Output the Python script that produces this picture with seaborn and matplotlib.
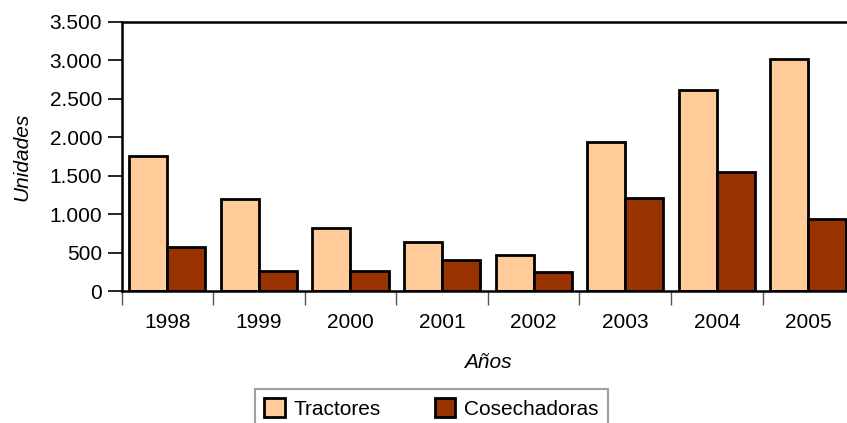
import seaborn as sns
import pandas as pd
import matplotlib.pyplot as plt
from matplotlib.ticker import FuncFormatter, FixedLocator

years = ["1998", "1999", "2000", "2001", "2002", "2003", "2004", "2005"]
tractores = [1760, 1200, 825, 640, 465, 1945, 2615, 3020]
cosechadoras = [568, 265, 260, 403, 243, 1205, 1548, 940]

df = pd.DataFrame({
    "Año": years * 2,
    "Unidades": tractores + cosechadoras,
    "Tipo": ["Tractores"] * len(years) + ["Cosechadoras"] * len(years),
})

sns.set_style("white", {"text.color": "black", "axes.labelcolor": "black",
                        "xtick.color": "black", "ytick.color": "black"})
plt.rcParams["font.family"] = ["Liberation Sans", "DejaVu Sans"]

fig = plt.figure(figsize=(8.47, 4.23), dpi=100)
ax = fig.add_axes([0.1435, 0.312, 0.865, 0.636])

sns.barplot(data=df, x="Año", y="Unidades", hue="Tipo",
            palette={"Tractores": "#FFCC99", "Cosechadoras": "#993300"},
            saturation=1, edgecolor="black", linewidth=2, width=0.83, gap=0, ax=ax)

ax.set_xlim(-0.5, 7.5)
ax.set_ylim(0, 3500)
ax.set_yticks(range(0, 3501, 500))
ax.yaxis.set_major_formatter(FuncFormatter(lambda v, p: f"{v:,.0f}".replace(",", ".")))
ax.xaxis.set_minor_locator(FixedLocator([i - 0.5 for i in range(9)]))
ax.tick_params(axis="x", which="major", length=0, labelsize=15, pad=16, labelcolor="black")
ax.tick_params(axis="x", which="minor", length=10, width=1, color="#555555", bottom=True)
ax.tick_params(axis="y", length=10, width=1.2, color="black", labelsize=15, left=True, pad=4,
               labelcolor="black")

for s in ["left", "top", "bottom", "right"]:
    ax.spines[s].set_color("black")
    ax.spines[s].set_linewidth(1.8)

ax.set_xlabel("Años", fontsize=15, style="italic", labelpad=15, color="black")
ax.set_ylabel("Unidades", fontsize=15, style="italic", labelpad=13, color="black")

ax.legend_.remove()
handles, labels = ax.get_legend_handles_labels()
leg = fig.legend(handles, labels, loc="upper center", bbox_to_anchor=(0.509, 0.081),
                 ncol=2, fontsize=15, frameon=True, fancybox=False, borderaxespad=0,
                 handlelength=1.0, handleheight=1.0, handletextpad=0.4,
                 columnspacing=2.6, borderpad=0.45, edgecolor="#888888",
                 labelcolor="black")
leg.get_frame().set_linewidth(1.5)
for h in leg.legend_handles:
    h.set_edgecolor("black")
    h.set_linewidth(2)

fig.savefig("out.png", dpi=100)
